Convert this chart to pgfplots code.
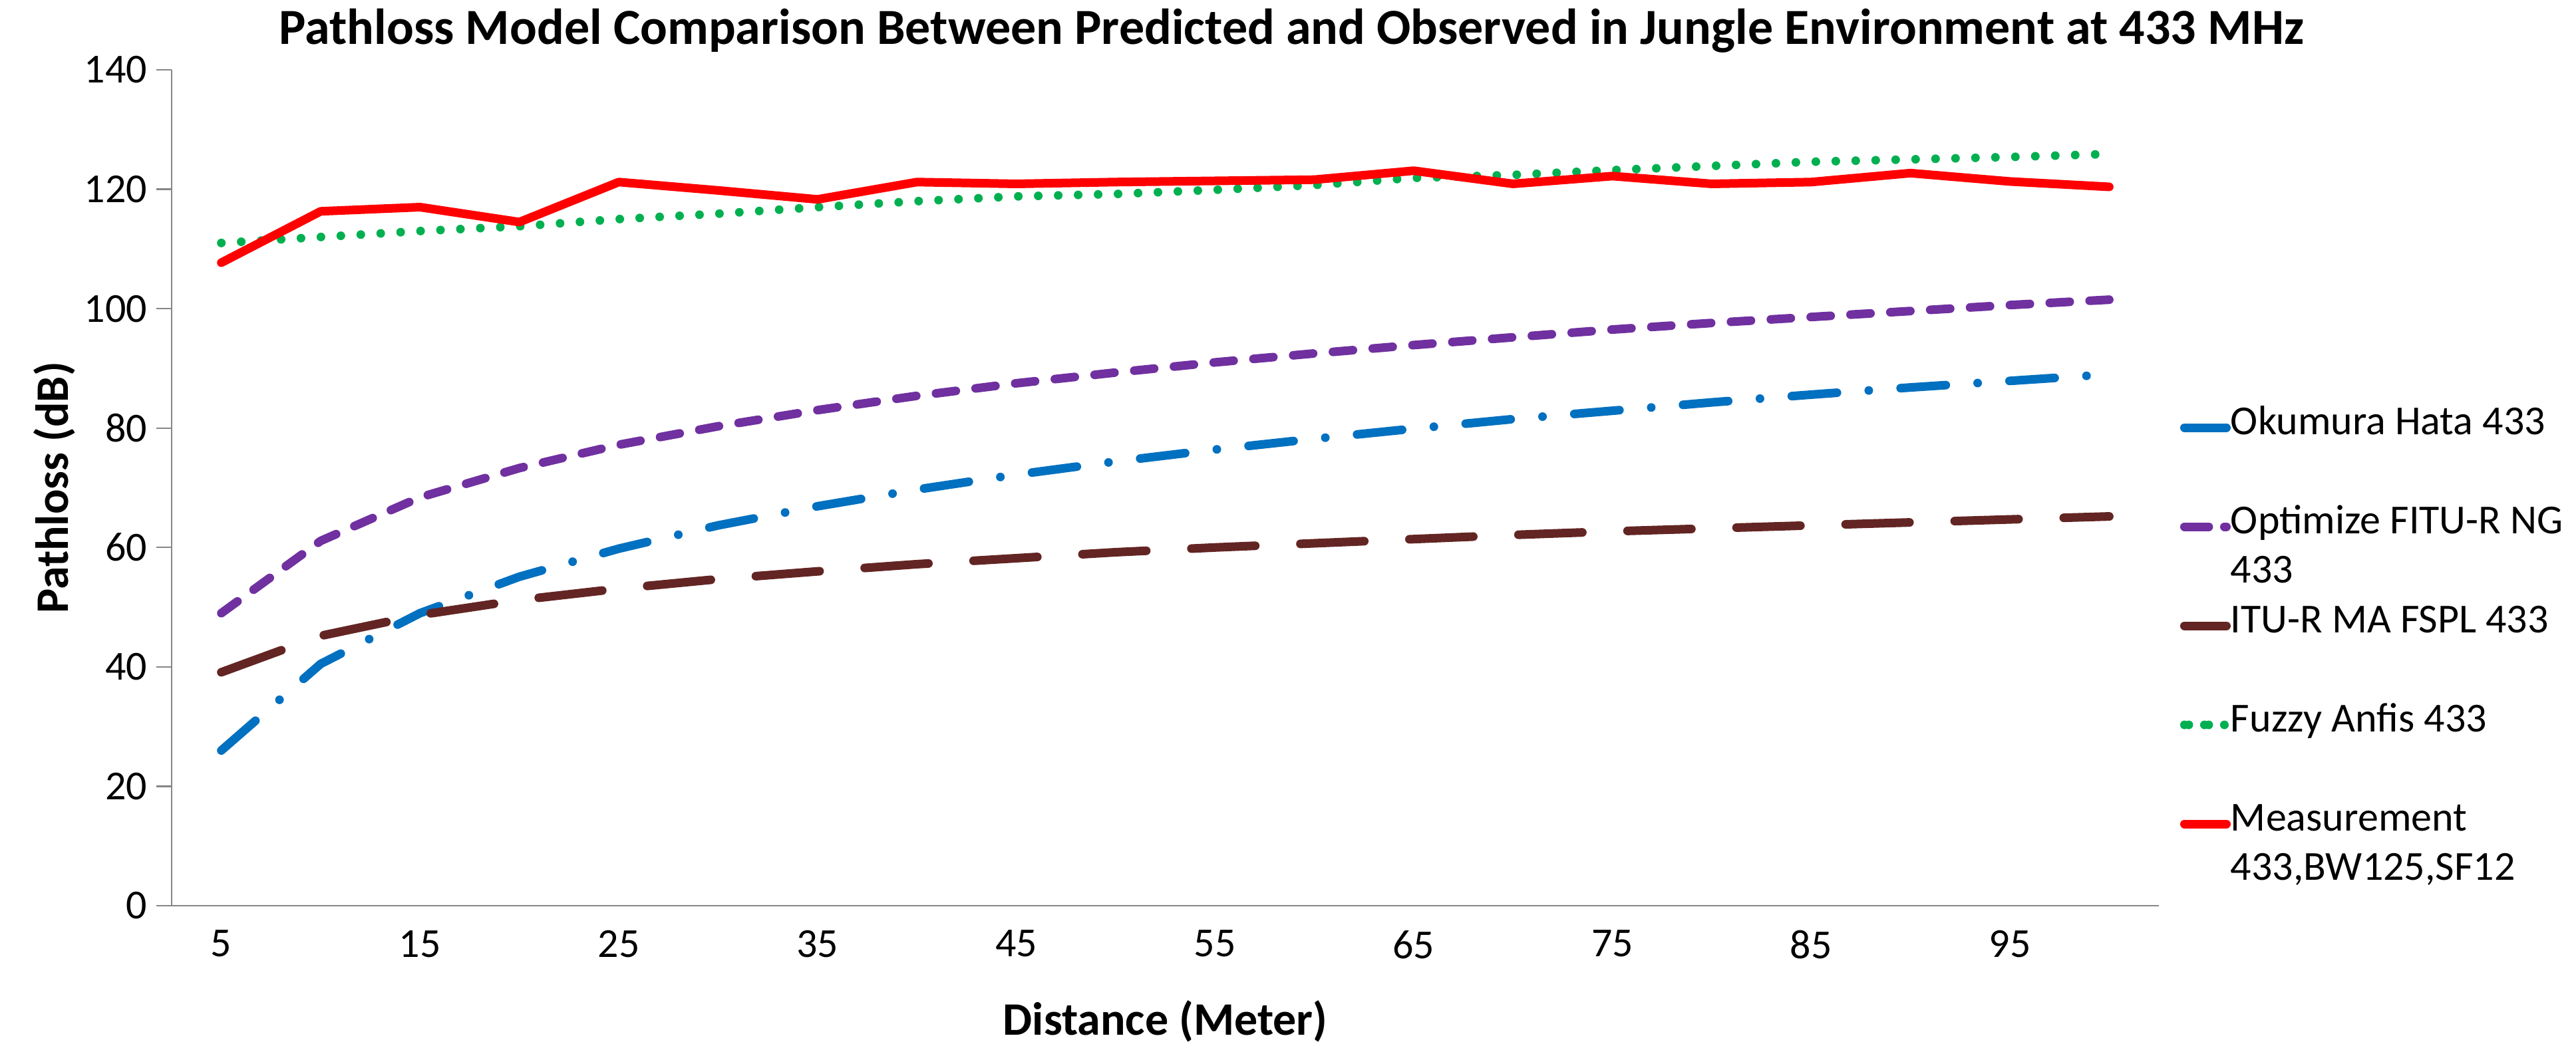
\documentclass[border=0pt]{standalone}
\usepackage{fontspec}
\setmainfont{Carlito}
\usepackage{pgfplots}
\usepackage{pgfplotstable}
\pgfplotsset{compat=1.18}
\definecolor{okublue}{HTML}{0070C0}
\definecolor{optpurple}{HTML}{7030A0}
\definecolor{itubrown}{HTML}{632523}
\definecolor{fuzgreen}{HTML}{00B050}
\definecolor{meared}{HTML}{FF0000}
\definecolor{axgray}{HTML}{868686}

% x = category index (0 -> 5 m, 19 -> 100 m)
\pgfplotstableread{
x  oku   opt    itu   fuz    mea
0  26.0  49.0   39.1  111.0  107.7
1  40.5  61.1   45.2  112.0  116.3
2  49.0  68.4   48.7  113.0  117.0
3  55.1  73.3   51.2  113.8  114.5
4  59.8  77.2   53.1  115.0  121.2
5  63.7  80.3   54.7  115.9  119.8
6  66.9  83.0   56.0  117.0  118.3
7  69.7  85.4   57.2  118.0  121.2
8  72.2  87.5   58.2  118.8  120.9
9  74.4  89.3   59.2  119.2  121.2
10 76.4  91.0   60.0  119.9  121.4
11 78.2  92.5   60.7  120.7  121.6
12 79.9  93.9   61.4  121.9  123.1
13 81.5  95.2   62.1  122.4  120.9
14 82.9  96.5   62.7  123.2  122.2
15 84.3  97.6   63.2  123.9  120.9
16 85.6  98.6   63.7  124.6  121.2
17 86.8  99.6   64.2  125.0  122.7
18 87.9  100.6  64.7  125.4  121.3
19 89.0  101.5  65.2  125.9  120.4
}\data

\begin{document}
\begin{tikzpicture}
\path[use as bounding box] (-64.5pt,-55.5pt) rectangle (903.5pt,340.5pt);
\begin{axis}[
  at={(0,0)}, anchor=south west,
  width=746.75pt, height=314.25pt, scale only axis,
  xmin=-0.5, xmax=19.5, ymin=0, ymax=140,
  axis x line*=bottom, axis y line*=left,
  axis line style={axgray, line width=0.55pt},
  xtick={0,2,...,18},
  xticklabels={5,15,25,35,45,55,65,75,85,95},
  ytick={0,20,...,140},
  xtick style={draw=none},
  ytick style={axgray, line width=0.55pt},
  tick align=outside, major tick length=5.75pt,
  /pgf/number format/assume math mode=true,
  tick label style={font=\fontsize{15.5}{18}\selectfont, text=black},
  every axis title shift=0pt,
  title={Pathloss Model Comparison Between Predicted and Observed in Jungle Environment at 433 MHz},
  title style={at={(axis description cs:0.5635,1.031)}, anchor=base, inner sep=0pt, yshift=0pt,
    font=\bfseries\fontsize{19}{23}\selectfont},
  xlabel={Distance (Meter)},
  xlabel style={at={(axis description cs:0.5,-0.155)}, anchor=base, inner sep=0pt,
    font=\bfseries\fontsize{17.5}{21}\selectfont},
  ylabel={Pathloss (dB)},
  ylabel style={at={(axis description cs:-0.0522,0.5)}, anchor=base, inner sep=0pt,
    font=\bfseries\fontsize{17.5}{21}\selectfont},
  legend style={at={(axis description cs:1.0107,0.6016)}, anchor=north west,
    draw=none, fill=none, inner sep=0pt, outer sep=0pt, row sep=0pt, column sep=0pt,
    font=\fontsize{15.5}{18}\selectfont,
    nodes={inner sep=0pt, outer sep=0pt, text height=11.8125pt, text depth=6.8125pt}},
  legend cell align=left,
  legend image code/.code={\path (0pt,0pt) -- (15.75pt,0pt);
    \draw[#1] (1.625pt,0pt) -- (12.625pt,0pt);},
  every axis plot/.append style={line width=3.25pt, line cap=round, line join=round},
]
\addplot[forget plot, okublue, dash pattern=on 17pt off 12pt on 0pt off 12pt] table[x=x,y=oku]{\data};
\addplot[forget plot, optpurple, dash pattern=on 7.5pt off 7.5pt] table[x=x,y=opt]{\data};
\addplot[forget plot, itubrown, dash pattern=on 24pt off 17pt] table[x=x,y=itu]{\data};
\addplot[forget plot, fuzgreen, dash pattern=on 0pt off 7.5pt] table[x=x,y=fuz]{\data};
\addplot[forget plot, meared] table[x=x,y=mea]{\data};

\addlegendimage{okublue, line width=3.25pt, line cap=round, solid}
\addlegendentry{Okumura Hata 433}
\addlegendimage{empty legend}\addlegendentry{}
\addlegendimage{optpurple, line width=3.25pt, line cap=round, dash pattern=on 7.5pt off 7.5pt}
\addlegendentry{Optimize FITU-R NG}
\addlegendimage{empty legend}\addlegendentry{433}
\addlegendimage{itubrown, line width=3.25pt, line cap=round, solid}
\addlegendentry{ITU-R MA FSPL 433}
\addlegendimage{empty legend}\addlegendentry{}
\addlegendimage{fuzgreen, line width=3.25pt, line cap=round, dash pattern=on 0pt off 7.5pt}
\addlegendentry{Fuzzy Anfis 433}
\addlegendimage{empty legend}\addlegendentry{}
\addlegendimage{meared, line width=3.25pt, line cap=round, solid}
\addlegendentry{Measurement}
\addlegendimage{empty legend}\addlegendentry{433,BW125,SF12}
\end{axis}
\end{tikzpicture}
\end{document}
